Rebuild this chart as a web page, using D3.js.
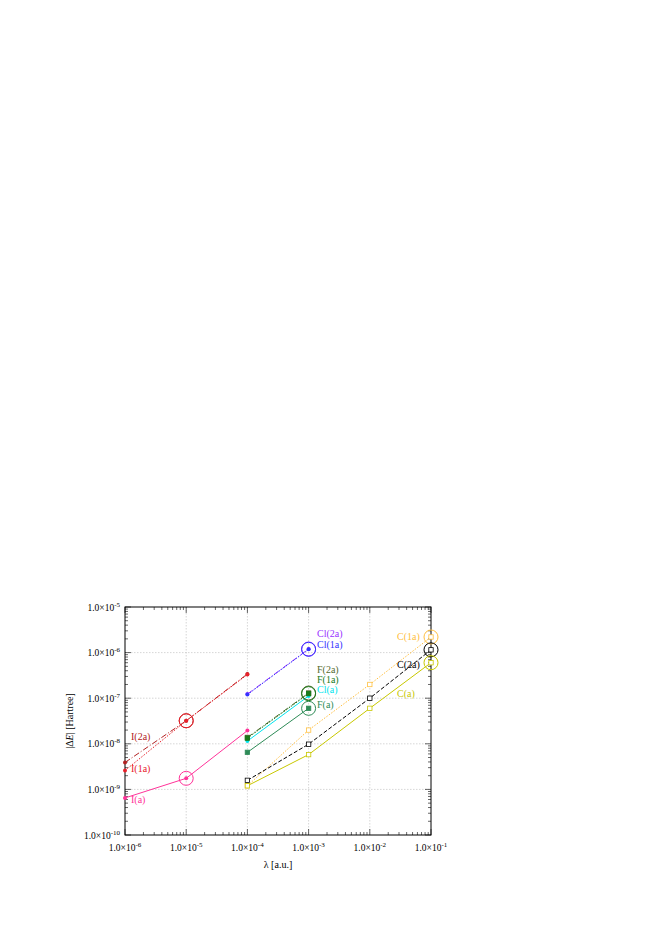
<!DOCTYPE html>
<html><head><meta charset="utf-8">
<script src="https://cdn.jsdelivr.net/npm/d3@7"></script>
<style>body{margin:0;background:#fff}text{font-family:"Liberation Serif",serif}</style>
</head><body><div id="chart"></div>
<script>
// data
const xTicks = [1e-6, 1e-5, 1e-4, 1e-3, 1e-2, 1e-1];
const yTicks = [1e-10, 1e-9, 1e-8, 1e-7, 1e-6, 1e-5];

const iX = [1e-6, 1e-5, 1e-4];
const i2a = [3.9e-9, 3.2e-8, 3.4e-7];
const i1a = [2.6e-9, 3.2e-8, 3.3e-7];
const ia = [6.5e-10, 1.75e-9, 1.95e-8];

const clfX = [1e-4, 1e-3];
const cl2a = [1.23e-7, 1.2e-6];
const cl1a = [1.2e-7, 1.18e-6];
const cla = [1.15e-8, 1.12e-7];
const f2a = [1.38e-8, 1.3e-7];
const f1a = [1.33e-8, 1.26e-7];
const fa = [6.5e-9, 6e-8];

const cX = [1e-4, 1e-3, 1e-2, 1e-1];
const c1a = [1.2e-9, 2e-8, 2e-7, 2.2e-6];
const c2a = [1.58e-9, 9.8e-9, 1e-7, 1.15e-6];
const ca = [1.2e-9, 5.8e-9, 6e-8, 6e-7];

const series = [
  {name: "I(2a)", x: iX, y: i2a, color: "#b22222", dash: "6,2,1,2", mark: "dot", ring: 1, lx: 131, ly: 740},
  {name: "I(1a)", x: iX, y: i1a, color: "#e8202a", dash: "1.5,1.5", mark: "dot", ring: 1, lx: 131, ly: 772},
  {name: "I(a)", x: iX, y: ia, color: "#ff3399", dash: null, mark: "dot", ring: 1, lx: 131, ly: 803},
  {name: "Cl(2a)", x: clfX, y: cl2a, color: "#9933ff", dash: "6,2,1,2", mark: "dot", ring: 1, lx: 317, ly: 637},
  {name: "Cl(1a)", x: clfX, y: cl1a, color: "#3333ff", dash: "1.5,1.5", mark: "dot", ring: 1, lx: 317, ly: 648},
  {name: "Cl(a)", x: clfX, y: cla, color: "#00e5ee", dash: null, mark: "dot", ring: -1, lx: 317, ly: 693},
  {name: "F(2a)", x: clfX, y: f2a, color: "#556b2f", dash: "6,2,1,2", mark: "sq", ring: 1, lx: 317, ly: 673},
  {name: "F(1a)", x: clfX, y: f1a, color: "#1a7a1a", dash: "1.5,1.5", mark: "sq", ring: 1, lx: 317, ly: 683},
  {name: "F(a)", x: clfX, y: fa, color: "#2e8b57", dash: null, mark: "sq", ring: 1, lx: 317, ly: 708},
  {name: "C(1a)", x: cX, y: c1a, color: "#ffc040", dash: "1.5,1.5", mark: "osq", ring: 3, lx: 397, ly: 640},
  {name: "C(2a)", x: cX, y: c2a, color: "#000000", dash: "4,2", mark: "osq", ring: 3, lx: 397, ly: 668},
  {name: "C(a)", x: cX, y: ca, color: "#c8c800", dash: null, mark: "osq", ring: 3, lx: 397, ly: 697}
];

const W = 654, H = 925;
const svg = d3.select("#chart").append("svg").attr("width", W).attr("height", H);
const pL = 125, pR = 431, pT = 607, pB = 835;

const x = d3.scaleLog().domain([1e-6, 1e-1]).range([pL, pR]);
const y = d3.scaleLog().domain([1e-10, 1e-5]).range([pB, pT]);

function sup(sel, d) {
  const e = Math.round(Math.log10(d));
  sel.append("tspan").text("1.0\u00d710");
  sel.append("tspan").attr("dy", -4).attr("font-size", 7).text(e);
}

// grid
svg.append("g").selectAll("line").data(xTicks.slice(1, -1)).join("line")
  .attr("x1", d => x(d)).attr("x2", d => x(d)).attr("y1", pT).attr("y2", pB)
  .attr("stroke", "#bbb").attr("stroke-width", 0.6).attr("stroke-dasharray", "1.5,1.5");
svg.append("g").selectAll("line").data(yTicks.slice(1, -1)).join("line")
  .attr("y1", d => y(d)).attr("y2", d => y(d)).attr("x1", pL).attr("x2", pR)
  .attr("stroke", "#bbb").attr("stroke-width", 0.6).attr("stroke-dasharray", "1.5,1.5");

// minor ticks
const minorY = [], minorX = [];
yTicks.slice(0, -1).forEach(t => { for (let k = 2; k < 10; k++) minorY.push(t * k); });
xTicks.slice(0, -1).forEach(t => { for (let k = 2; k < 10; k++) minorX.push(t * k); });
const tk = svg.append("g").attr("stroke", "#000").attr("stroke-width", 0.6);
minorY.forEach(d => {
  tk.append("line").attr("x1", pL).attr("x2", pL + 3).attr("y1", y(d)).attr("y2", y(d));
  tk.append("line").attr("x1", pR).attr("x2", pR - 3).attr("y1", y(d)).attr("y2", y(d));
});
minorX.forEach(d => {
  tk.append("line").attr("y1", pB).attr("y2", pB - 3).attr("x1", x(d)).attr("x2", x(d));
  tk.append("line").attr("y1", pT).attr("y2", pT + 3).attr("x1", x(d)).attr("x2", x(d));
});
yTicks.forEach(d => {
  tk.append("line").attr("x1", pL).attr("x2", pL + 6).attr("y1", y(d)).attr("y2", y(d));
  tk.append("line").attr("x1", pR).attr("x2", pR - 6).attr("y1", y(d)).attr("y2", y(d));
});
xTicks.forEach(d => {
  tk.append("line").attr("y1", pB).attr("y2", pB - 6).attr("x1", x(d)).attr("x2", x(d));
  tk.append("line").attr("y1", pT).attr("y2", pT + 6).attr("x1", x(d)).attr("x2", x(d));
});
svg.append("rect").attr("x", pL).attr("y", pT).attr("width", pR - pL).attr("height", pB - pT)
  .attr("fill", "none").attr("stroke", "#000").attr("stroke-width", 1);

// tick labels
yTicks.forEach(d => {
  svg.append("text").attr("x", pL - 5).attr("y", y(d) + 3.5).attr("text-anchor", "end")
    .attr("font-size", 9.5).call(sup, d);
});
xTicks.forEach(d => {
  svg.append("text").attr("x", x(d)).attr("y", pB + 16).attr("text-anchor", "middle")
    .attr("font-size", 9.5).call(sup, d);
});

svg.append("text").attr("x", (pL + pR) / 2).attr("y", pB + 33).attr("text-anchor", "middle")
  .attr("font-size", 10).text("\u03bb [a.u.]");
const yl = svg.append("text").attr("transform", `translate(${pL - 52},${(pT + pB) / 2}) rotate(-90)`)
  .attr("text-anchor", "middle").attr("font-size", 10);
yl.append("tspan").text("|\u0394");
yl.append("tspan").attr("font-style", "italic").text("E");
yl.append("tspan").text("| [Hartree]");

// series
const line = d3.line().x(d => x(d[0])).y(d => y(d[1]));
series.forEach(s => {
  const pts = s.x.map((v, i) => [v, s.y[i]]);
  const g = svg.append("g");
  g.append("path").attr("d", line(pts)).attr("fill", "none").attr("stroke", s.color)
    .attr("stroke-width", 1).attr("stroke-dasharray", s.dash);
  pts.forEach(p => {
    if (s.mark === "dot") {
      g.append("circle").attr("cx", x(p[0])).attr("cy", y(p[1])).attr("r", 2).attr("fill", s.color);
    } else {
      g.append("rect").attr("x", x(p[0]) - 2.2).attr("y", y(p[1]) - 2.2).attr("width", 4.4).attr("height", 4.4)
        .attr("fill", s.mark === "sq" ? s.color : "#fff").attr("stroke", s.color).attr("stroke-width", 0.8);
    }
  });
  if (s.ring >= 0) {
    const p = pts[Math.min(s.ring, pts.length - 1)];
    g.append("circle").attr("cx", x(p[0])).attr("cy", y(p[1])).attr("r", 7)
      .attr("fill", "none").attr("stroke", s.color).attr("stroke-width", 1);
  }
  svg.append("text").attr("x", s.lx).attr("y", s.ly).attr("font-size", 10).attr("fill", s.color).text(s.name);
});
</script>
</body></html>
